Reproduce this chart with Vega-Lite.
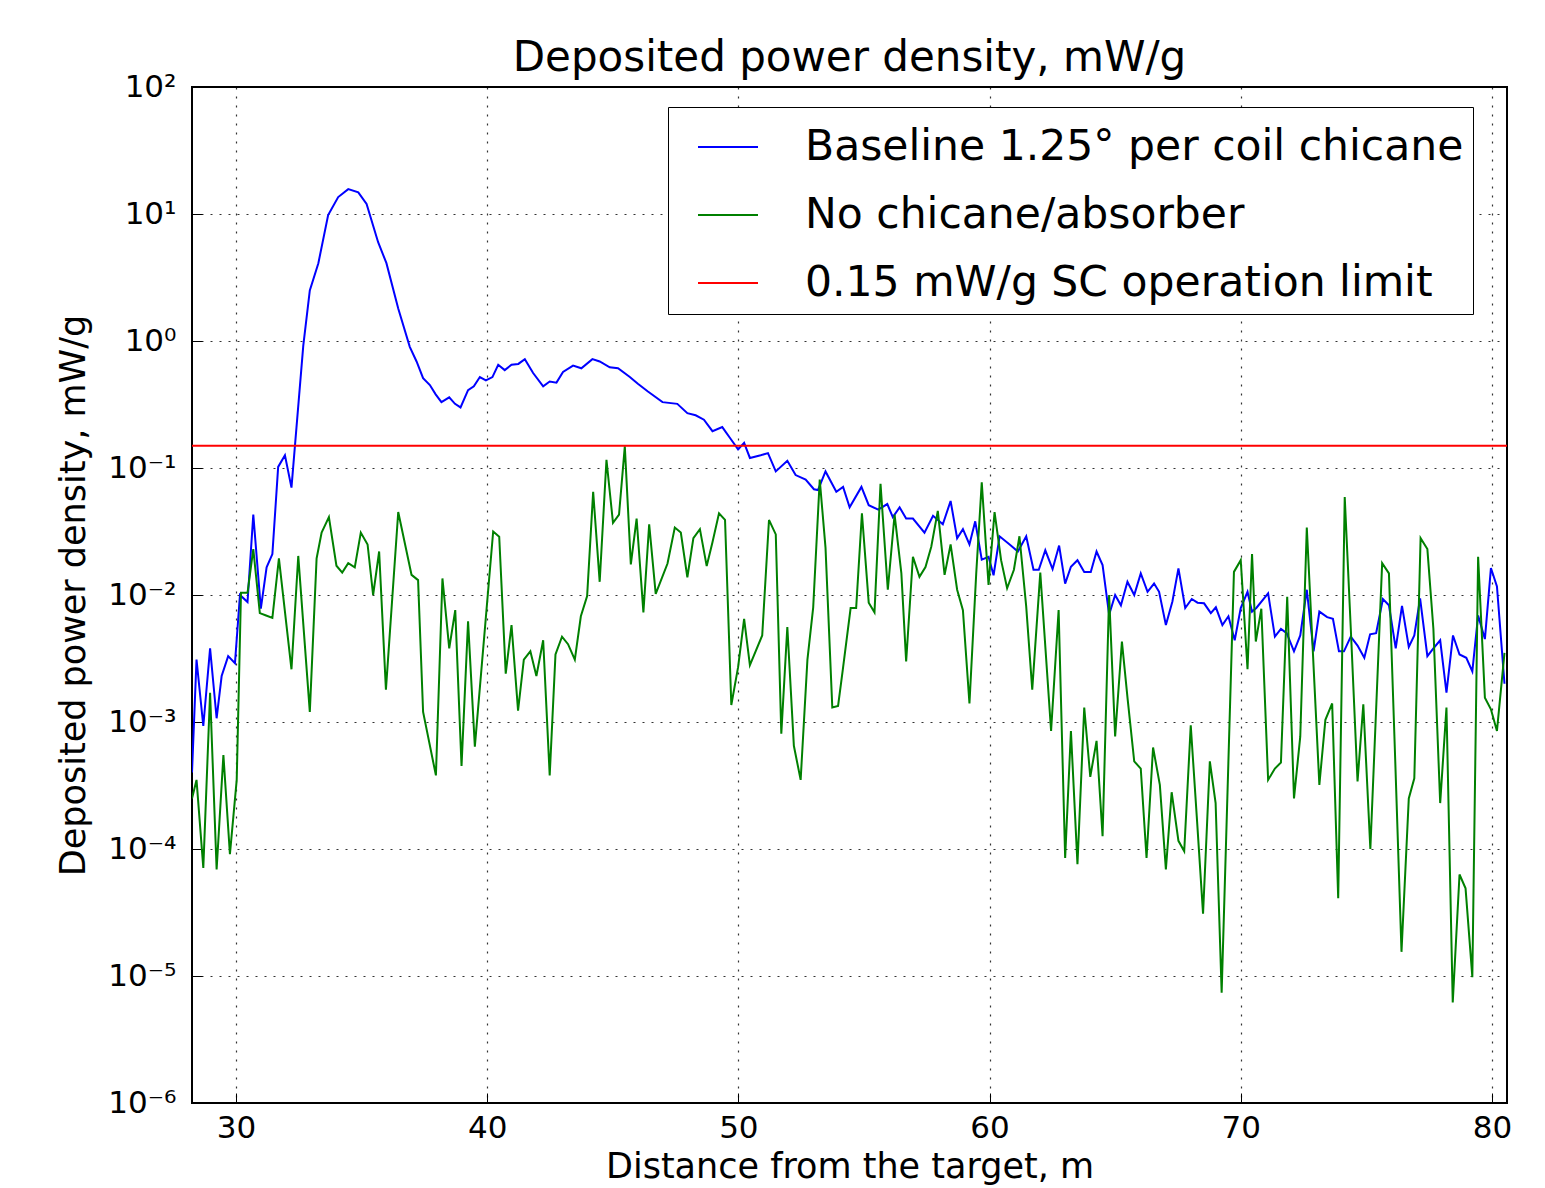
{
 "$schema": "https://vega.github.io/schema/vega-lite/v6.json",
 "width": 1315,
 "height": 1016,
 "autosize": {"type": "none"},
 "padding": {"left": 192, "top": 87, "right": 38, "bottom": 85},
 "background": "white",
 "title": {"text": "Deposited power density, mW/g", "fontSize": 42, "font": "DejaVu Sans", "fontWeight": "normal", "offset": -9, "color": "black"},
 "config": {"view": {"stroke": "black", "strokeWidth": 2}, "font": "DejaVu Sans"},
 "datasets": {
  "curves": [
   {"series":"B","distance":28.25,"power":0.0004},{"series":"B","distance":28.43,"power":0.0031},{"series":"B","distance":28.7,"power":0.00093},{"series":"B","distance":28.97,"power":0.0038},{"series":"B","distance":29.23,"power":0.00107},{"series":"B","distance":29.43,"power":0.0023},{"series":"B","distance":29.69,"power":0.0033},{"series":"B","distance":29.96,"power":0.0029},{"series":"B","distance":30.16,"power":0.01},{"series":"B","distance":30.46,"power":0.0088},{"series":"B","distance":30.69,"power":0.043},{"series":"B","distance":30.99,"power":0.0078},{"series":"B","distance":31.22,"power":0.0165},{"series":"B","distance":31.45,"power":0.021},{"series":"B","distance":31.68,"power":0.102},{"series":"B","distance":31.95,"power":0.126},{"series":"B","distance":32.21,"power":0.07},{"series":"B","distance":32.41,"power":0.21},{"series":"B","distance":32.68,"power":0.92},{"series":"B","distance":32.94,"power":2.5},{"series":"B","distance":33.28,"power":4.1},{"series":"B","distance":33.67,"power":9.8},{"series":"B","distance":34.07,"power":13.6},{"series":"B","distance":34.47,"power":15.7},{"series":"B","distance":34.87,"power":14.8},{"series":"B","distance":35.2,"power":12.0},{"series":"B","distance":35.66,"power":6.0},{"series":"B","distance":35.99,"power":4.1},{"series":"B","distance":36.46,"power":1.8},{"series":"B","distance":36.92,"power":0.9},{"series":"B","distance":37.19,"power":0.69},{"series":"B","distance":37.45,"power":0.51},{"series":"B","distance":37.72,"power":0.45},{"series":"B","distance":37.95,"power":0.38},{"series":"B","distance":38.18,"power":0.33},{"series":"B","distance":38.49,"power":0.36},{"series":"B","distance":38.72,"power":0.32},{"series":"B","distance":38.94,"power":0.3},{"series":"B","distance":39.24,"power":0.41},{"series":"B","distance":39.47,"power":0.44},{"series":"B","distance":39.71,"power":0.52},{"series":"B","distance":39.95,"power":0.49},{"series":"B","distance":40.21,"power":0.52},{"series":"B","distance":40.44,"power":0.65},{"series":"B","distance":40.7,"power":0.59},{"series":"B","distance":40.97,"power":0.65},{"series":"B","distance":41.24,"power":0.66},{"series":"B","distance":41.5,"power":0.72},{"series":"B","distance":41.83,"power":0.56},{"series":"B","distance":42.23,"power":0.44},{"series":"B","distance":42.49,"power":0.48},{"series":"B","distance":42.76,"power":0.47},{"series":"B","distance":43.02,"power":0.57},{"series":"B","distance":43.42,"power":0.64},{"series":"B","distance":43.75,"power":0.61},{"series":"B","distance":44.19,"power":0.72},{"series":"B","distance":44.48,"power":0.69},{"series":"B","distance":44.88,"power":0.62},{"series":"B","distance":45.21,"power":0.61},{"series":"B","distance":45.68,"power":0.52},{"series":"B","distance":46.0,"power":0.46},{"series":"B","distance":46.4,"power":0.4},{"series":"B","distance":46.98,"power":0.33},{"series":"B","distance":47.57,"power":0.32},{"series":"B","distance":47.97,"power":0.27},{"series":"B","distance":48.3,"power":0.26},{"series":"B","distance":48.63,"power":0.24},{"series":"B","distance":48.97,"power":0.195},{"series":"B","distance":49.36,"power":0.21},{"series":"B","distance":49.69,"power":0.17},{"series":"B","distance":49.99,"power":0.14},{"series":"B","distance":50.23,"power":0.158},{"series":"B","distance":50.46,"power":0.12},{"series":"B","distance":50.89,"power":0.126},{"series":"B","distance":51.18,"power":0.131},{"series":"B","distance":51.49,"power":0.094},{"series":"B","distance":51.95,"power":0.114},{"series":"B","distance":52.28,"power":0.088},{"series":"B","distance":52.68,"power":0.081},{"series":"B","distance":53.01,"power":0.068},{"series":"B","distance":53.17,"power":0.067},{"series":"B","distance":53.47,"power":0.094},{"series":"B","distance":53.9,"power":0.065},{"series":"B","distance":54.17,"power":0.071},{"series":"B","distance":54.43,"power":0.049},{"series":"B","distance":54.9,"power":0.071},{"series":"B","distance":55.19,"power":0.051},{"series":"B","distance":55.57,"power":0.047},{"series":"B","distance":55.93,"power":0.052},{"series":"B","distance":56.15,"power":0.041},{"series":"B","distance":56.42,"power":0.049},{"series":"B","distance":56.68,"power":0.04},{"series":"B","distance":56.95,"power":0.04},{"series":"B","distance":57.41,"power":0.031},{"series":"B","distance":57.75,"power":0.042},{"series":"B","distance":58.14,"power":0.036},{"series":"B","distance":58.45,"power":0.055},{"series":"B","distance":58.71,"power":0.028},{"series":"B","distance":58.94,"power":0.033},{"series":"B","distance":59.2,"power":0.025},{"series":"B","distance":59.43,"power":0.038},{"series":"B","distance":59.69,"power":0.019},{"series":"B","distance":59.96,"power":0.02},{"series":"B","distance":60.16,"power":0.0143},{"series":"B","distance":60.4,"power":0.029},{"series":"B","distance":60.8,"power":0.025},{"series":"B","distance":61.13,"power":0.022},{"series":"B","distance":61.46,"power":0.029},{"series":"B","distance":61.75,"power":0.0158},{"series":"B","distance":61.96,"power":0.0158},{"series":"B","distance":62.22,"power":0.0225},{"series":"B","distance":62.51,"power":0.016},{"series":"B","distance":62.77,"power":0.0245},{"series":"B","distance":63.01,"power":0.0123},{"series":"B","distance":63.24,"power":0.0167},{"series":"B","distance":63.5,"power":0.0188},{"series":"B","distance":63.77,"power":0.0152},{"series":"B","distance":64.03,"power":0.0152},{"series":"B","distance":64.26,"power":0.022},{"series":"B","distance":64.5,"power":0.0172},{"series":"B","distance":64.76,"power":0.007},{"series":"B","distance":65.0,"power":0.01},{"series":"B","distance":65.23,"power":0.0083},{"series":"B","distance":65.49,"power":0.0127},{"series":"B","distance":65.76,"power":0.01},{"series":"B","distance":66.02,"power":0.0148},{"series":"B","distance":66.29,"power":0.0106},{"series":"B","distance":66.55,"power":0.0123},{"series":"B","distance":66.75,"power":0.0106},{"series":"B","distance":67.02,"power":0.0058},{"series":"B","distance":67.28,"power":0.0089},{"series":"B","distance":67.52,"power":0.0162},{"series":"B","distance":67.79,"power":0.0079},{"series":"B","distance":68.05,"power":0.0093},{"series":"B","distance":68.28,"power":0.0087},{"series":"B","distance":68.54,"power":0.0086},{"series":"B","distance":68.81,"power":0.0072},{"series":"B","distance":69.01,"power":0.008},{"series":"B","distance":69.27,"power":0.0058},{"series":"B","distance":69.51,"power":0.0068},{"series":"B","distance":69.76,"power":0.0044},{"series":"B","distance":70.0,"power":0.0079},{"series":"B","distance":70.27,"power":0.0106},{"series":"B","distance":70.45,"power":0.0074},{"series":"B","distance":70.62,"power":0.0079},{"series":"B","distance":71.09,"power":0.0103},{"series":"B","distance":71.36,"power":0.0047},{"series":"B","distance":71.6,"power":0.0054},{"series":"B","distance":71.83,"power":0.005},{"series":"B","distance":72.12,"power":0.0036},{"series":"B","distance":72.37,"power":0.0048},{"series":"B","distance":72.63,"power":0.011},{"series":"B","distance":72.9,"power":0.0036},{"series":"B","distance":73.13,"power":0.0074},{"series":"B","distance":73.44,"power":0.0067},{"series":"B","distance":73.67,"power":0.0065},{"series":"B","distance":73.91,"power":0.0036},{"series":"B","distance":74.11,"power":0.0036},{"series":"B","distance":74.38,"power":0.0047},{"series":"B","distance":74.65,"power":0.004},{"series":"B","distance":74.92,"power":0.0032},{"series":"B","distance":75.15,"power":0.0049},{"series":"B","distance":75.39,"power":0.005},{"series":"B","distance":75.66,"power":0.0093},{"series":"B","distance":75.9,"power":0.0083},{"series":"B","distance":76.17,"power":0.0038},{"series":"B","distance":76.42,"power":0.0082},{"series":"B","distance":76.69,"power":0.0039},{"series":"B","distance":76.91,"power":0.0048},{"series":"B","distance":77.14,"power":0.0094},{"series":"B","distance":77.43,"power":0.0033},{"series":"B","distance":77.67,"power":0.0038},{"series":"B","distance":77.94,"power":0.0044},{"series":"B","distance":78.19,"power":0.0017},{"series":"B","distance":78.45,"power":0.0048},{"series":"B","distance":78.71,"power":0.0034},{"series":"B","distance":78.98,"power":0.0032},{"series":"B","distance":79.22,"power":0.0025},{"series":"B","distance":79.45,"power":0.0069},{"series":"B","distance":79.72,"power":0.0045},{"series":"B","distance":79.96,"power":0.0163},{"series":"B","distance":80.2,"power":0.0117},{"series":"B","distance":80.5,"power":0.002},
   {"series":"G","distance":28.25,"power":0.00025},{"series":"G","distance":28.43,"power":0.00035},{"series":"G","distance":28.7,"power":0.000071},{"series":"G","distance":28.97,"power":0.0017},{"series":"G","distance":29.23,"power":0.000069},{"series":"G","distance":29.5,"power":0.00055},{"series":"G","distance":29.76,"power":0.000091},{"series":"G","distance":30.03,"power":0.00035},{"series":"G","distance":30.2,"power":0.0104},{"series":"G","distance":30.46,"power":0.0104},{"series":"G","distance":30.69,"power":0.023},{"series":"G","distance":30.95,"power":0.0072},{"series":"G","distance":31.2,"power":0.0069},{"series":"G","distance":31.45,"power":0.0066},{"series":"G","distance":31.71,"power":0.0194},{"series":"G","distance":32.21,"power":0.0026},{"series":"G","distance":32.48,"power":0.0203},{"series":"G","distance":32.94,"power":0.0012},{"series":"G","distance":33.21,"power":0.0194},{"series":"G","distance":33.41,"power":0.031},{"series":"G","distance":33.7,"power":0.041},{"series":"G","distance":34.0,"power":0.017},{"series":"G","distance":34.23,"power":0.015},{"series":"G","distance":34.47,"power":0.0178},{"series":"G","distance":34.73,"power":0.0165},{"series":"G","distance":34.97,"power":0.031},{"series":"G","distance":35.24,"power":0.025},{"series":"G","distance":35.46,"power":0.01},{"series":"G","distance":35.7,"power":0.022},{"series":"G","distance":35.97,"power":0.0018},{"series":"G","distance":36.46,"power":0.045},{"series":"G","distance":36.99,"power":0.0144},{"series":"G","distance":37.25,"power":0.0131},{"series":"G","distance":37.45,"power":0.0012},{"series":"G","distance":37.96,"power":0.00038},{"series":"G","distance":38.22,"power":0.0135},{"series":"G","distance":38.49,"power":0.0038},{"series":"G","distance":38.73,"power":0.0076},{"series":"G","distance":38.98,"power":0.00045},{"series":"G","distance":39.24,"power":0.0062},{"series":"G","distance":39.51,"power":0.00064},{"series":"G","distance":40.24,"power":0.0316},{"series":"G","distance":40.48,"power":0.0288},{"series":"G","distance":40.74,"power":0.0024},{"series":"G","distance":40.97,"power":0.0058},{"series":"G","distance":41.23,"power":0.00123},{"series":"G","distance":41.46,"power":0.0031},{"series":"G","distance":41.72,"power":0.0036},{"series":"G","distance":41.96,"power":0.0023},{"series":"G","distance":42.23,"power":0.0044},{"series":"G","distance":42.49,"power":0.00038},{"series":"G","distance":42.72,"power":0.0034},{"series":"G","distance":42.98,"power":0.0047},{"series":"G","distance":43.22,"power":0.0041},{"series":"G","distance":43.49,"power":0.0031},{"series":"G","distance":43.73,"power":0.0068},{"series":"G","distance":43.98,"power":0.0098},{"series":"G","distance":44.22,"power":0.065},{"series":"G","distance":44.48,"power":0.0127},{"series":"G","distance":44.75,"power":0.116},{"series":"G","distance":45.01,"power":0.037},{"series":"G","distance":45.25,"power":0.043},{"series":"G","distance":45.48,"power":0.148},{"series":"G","distance":45.72,"power":0.0174},{"series":"G","distance":45.95,"power":0.04},{"series":"G","distance":46.22,"power":0.0073},{"series":"G","distance":46.45,"power":0.036},{"series":"G","distance":46.71,"power":0.0102},{"series":"G","distance":47.18,"power":0.0177},{"series":"G","distance":47.47,"power":0.034},{"series":"G","distance":47.71,"power":0.031},{"series":"G","distance":47.97,"power":0.0138},{"series":"G","distance":48.21,"power":0.028},{"series":"G","distance":48.47,"power":0.033},{"series":"G","distance":48.74,"power":0.0169},{"series":"G","distance":48.97,"power":0.026},{"series":"G","distance":49.23,"power":0.044},{"series":"G","distance":49.47,"power":0.039},{"series":"G","distance":49.72,"power":0.00136},{"series":"G","distance":49.99,"power":0.0027},{"series":"G","distance":50.23,"power":0.0065},{"series":"G","distance":50.46,"power":0.0028},{"series":"G","distance":50.95,"power":0.0048},{"series":"G","distance":51.22,"power":0.039},{"series":"G","distance":51.49,"power":0.03},{"series":"G","distance":51.71,"power":0.00081},{"series":"G","distance":51.95,"power":0.0056},{"series":"G","distance":52.21,"power":0.00065},{"series":"G","distance":52.48,"power":0.00035},{"series":"G","distance":52.75,"power":0.0031},{"series":"G","distance":52.98,"power":0.008},{"series":"G","distance":53.24,"power":0.081},{"series":"G","distance":53.47,"power":0.0236},{"series":"G","distance":53.74,"power":0.0013},{"series":"G","distance":53.97,"power":0.00134},{"series":"G","distance":54.16,"power":0.0026},{"series":"G","distance":54.47,"power":0.0079},{"series":"G","distance":54.69,"power":0.0079},{"series":"G","distance":54.92,"power":0.044},{"series":"G","distance":55.19,"power":0.0087},{"series":"G","distance":55.42,"power":0.0073},{"series":"G","distance":55.66,"power":0.075},{"series":"G","distance":55.95,"power":0.011},{"series":"G","distance":56.22,"power":0.043},{"series":"G","distance":56.49,"power":0.0148},{"series":"G","distance":56.68,"power":0.003},{"series":"G","distance":56.95,"power":0.02},{"series":"G","distance":57.21,"power":0.0139},{"series":"G","distance":57.45,"power":0.0166},{"series":"G","distance":57.68,"power":0.024},{"series":"G","distance":57.94,"power":0.046},{"series":"G","distance":58.21,"power":0.0144},{"series":"G","distance":58.45,"power":0.025},{"series":"G","distance":58.71,"power":0.011},{"series":"G","distance":58.94,"power":0.0076},{"series":"G","distance":59.2,"power":0.0014},{"series":"G","distance":59.47,"power":0.0148},{"series":"G","distance":59.69,"power":0.077},{"series":"G","distance":59.96,"power":0.012},{"series":"G","distance":60.2,"power":0.045},{"series":"G","distance":60.46,"power":0.0188},{"series":"G","distance":60.7,"power":0.0113},{"series":"G","distance":60.97,"power":0.0158},{"series":"G","distance":61.19,"power":0.029},{"series":"G","distance":61.46,"power":0.0081},{"series":"G","distance":61.7,"power":0.0018},{"series":"G","distance":62.02,"power":0.015},{"series":"G","distance":62.45,"power":0.00085},{"series":"G","distance":62.75,"power":0.0076},{"series":"G","distance":63.01,"power":0.000085},{"series":"G","distance":63.24,"power":0.00085},{"series":"G","distance":63.5,"power":0.000076},{"series":"G","distance":63.77,"power":0.0013},{"series":"G","distance":64.01,"power":0.00037},{"series":"G","distance":64.26,"power":0.00071},{"series":"G","distance":64.5,"power":0.000126},{"series":"G","distance":64.76,"power":0.01},{"series":"G","distance":65.0,"power":0.00077},{"series":"G","distance":65.27,"power":0.0043},{"series":"G","distance":65.5,"power":0.0015},{"series":"G","distance":65.76,"power":0.00049},{"series":"G","distance":66.02,"power":0.00043},{"series":"G","distance":66.25,"power":0.000085},{"series":"G","distance":66.51,"power":0.00063},{"series":"G","distance":66.78,"power":0.00032},{"series":"G","distance":67.02,"power":0.000069},{"series":"G","distance":67.25,"power":0.00028},{"series":"G","distance":67.52,"power":0.000116},{"series":"G","distance":67.75,"power":0.000096},{"series":"G","distance":68.01,"power":0.00094},{"series":"G","distance":68.25,"power":0.00018},{"series":"G","distance":68.5,"power":0.000031},{"series":"G","distance":68.77,"power":0.00049},{"series":"G","distance":69.0,"power":0.00023},{"series":"G","distance":69.24,"power":0.0000074},{"series":"G","distance":69.73,"power":0.0152},{"series":"G","distance":70.0,"power":0.0188},{"series":"G","distance":70.27,"power":0.0026},{"series":"G","distance":70.45,"power":0.021},{"series":"G","distance":70.6,"power":0.0043},{"series":"G","distance":70.82,"power":0.0078},{"series":"G","distance":71.09,"power":0.00035},{"series":"G","distance":71.36,"power":0.00043},{"series":"G","distance":71.6,"power":0.00048},{"series":"G","distance":71.85,"power":0.0097},{"series":"G","distance":72.12,"power":0.00025},{"series":"G","distance":72.37,"power":0.00077},{"series":"G","distance":72.63,"power":0.034},{"series":"G","distance":73.13,"power":0.00032},{"series":"G","distance":73.37,"power":0.00104},{"series":"G","distance":73.64,"power":0.0014},{"series":"G","distance":73.88,"power":0.000041},{"series":"G","distance":74.14,"power":0.059},{"series":"G","distance":74.4,"power":0.0045},{"series":"G","distance":74.65,"power":0.00034},{"series":"G","distance":74.88,"power":0.00138},{"series":"G","distance":75.16,"power":0.0001},{"series":"G","distance":75.63,"power":0.0178},{"series":"G","distance":75.9,"power":0.0148},{"series":"G","distance":76.15,"power":0.0005},{"series":"G","distance":76.4,"power":0.0000155},{"series":"G","distance":76.69,"power":0.00025},{"series":"G","distance":76.91,"power":0.00036},{"series":"G","distance":77.16,"power":0.028},{"series":"G","distance":77.43,"power":0.023},{"series":"G","distance":77.67,"power":0.0054},{"series":"G","distance":77.94,"power":0.00023},{"series":"G","distance":78.19,"power":0.0013},{"series":"G","distance":78.44,"power":0.0000062},{"series":"G","distance":78.71,"power":0.000063},{"series":"G","distance":78.95,"power":0.000049},{"series":"G","distance":79.22,"power":0.0000098},{"series":"G","distance":79.45,"power":0.02},{"series":"G","distance":79.72,"power":0.00155},{"series":"G","distance":79.96,"power":0.00126},{"series":"G","distance":80.2,"power":0.00085},{"series":"G","distance":80.5,"power":0.0035},
   {"series":"R","distance":28.25,"power":0.15},{"series":"R","distance":80.6,"power":0.15}
  ]
 },
 "data": {"name": "curves"},
 "mark": {"type": "line", "strokeWidth": 2, "clip": true},
 "encoding": {
  "x": {
   "field": "distance", "type": "quantitative",
   "scale": {"domain": [28.25, 80.6], "nice": false, "zero": false},
   "axis": {"values": [30, 40, 50, 60, 70, 80], "grid": true, "gridDash": [2, 7], "gridColor": "black", "gridOpacity": 0.8, "gridWidth": 1.2, "domain": false, "tickColor": "black", "tickSize": -10, "labelPadding": 20, "labelFontSize": 31, "labelColor": "black", "title": "Distance from the target, m", "titleFontSize": 35, "titleFontWeight": "normal", "titleColor": "black", "titlePadding": 6}
  },
  "y": {
   "field": "power", "type": "quantitative",
   "scale": {"type": "log", "domain": [0.000001, 100], "nice": false},
   "axis": {"values": [0.000001, 0.00001, 0.0001, 0.001, 0.01, 0.1, 1, 10, 100], "labelExpr": "'10' + (datum.value > 50 ? '²' : datum.value > 5 ? '¹' : datum.value > 0.5 ? '⁰' : datum.value > 0.05 ? '⁻¹' : datum.value > 0.005 ? '⁻²' : datum.value > 0.0005 ? '⁻³' : datum.value > 0.00005 ? '⁻⁴' : datum.value > 0.000005 ? '⁻⁵' : '⁻⁶')", "grid": true, "gridDash": [2, 7], "gridColor": "black", "gridOpacity": 0.8, "gridWidth": 1.2, "domain": false, "tickColor": "black", "tickSize": -10, "labelPadding": 26, "labelFontSize": 31, "labelColor": "black", "title": "Deposited power density, mW/g", "titleFontSize": 35, "titleFontWeight": "normal", "titleColor": "black", "titlePadding": 16}
  },
  "color": {
   "field": "series", "type": "nominal",
   "scale": {"domain": ["B", "G", "R"], "range": ["#0000ff", "#008000", "#ff0000"]},
   "legend": {"orient": "none", "legendX": 476, "legendY": 20, "title": null, "labelExpr": "datum.label == 'B' ? 'Baseline 1.25° per coil chicane' : datum.label == 'G' ? 'No chicane/absorber' : '0.15 mW/g SC operation limit'", "labelFontSize": 42.5, "labelLimit": 1000, "labelColor": "black", "symbolType": "stroke", "symbolSize": 3600, "symbolStrokeWidth": 2, "labelOffset": 46, "rowPadding": 15, "padding": 9, "symbolOffset": 20, "strokeColor": "black", "fillColor": "white", "cornerRadius": 0}
  }
 }
}
